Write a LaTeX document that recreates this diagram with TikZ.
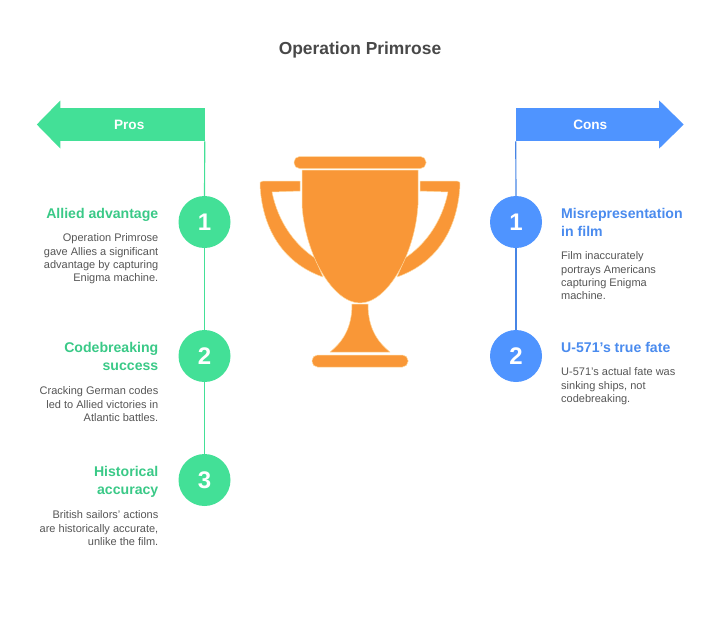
\documentclass[tikz,border=0pt]{standalone}
\usepackage{fontspec}
\setmainfont{Liberation Sans}
\usetikzlibrary{calc, positioning}
\definecolor{prosfill}{HTML}{43E097}
\definecolor{prostext}{HTML}{3AC987}
\definecolor{consfill}{HTML}{4F94FF}
\definecolor{constext}{HTML}{4A8BEE}
\definecolor{cupfill}{HTML}{F99737}
\definecolor{cupedge}{HTML}{FFD9A0}
\definecolor{bodygray}{HTML}{555555}
\definecolor{titlegray}{HTML}{484848}
\tikzset{
title/.style={
	font=\fontsize{17.4}{21}\selectfont\bfseries,
	text=titlegray,
},
bar/.style={
	inner sep=0pt,
	minimum height=33.5pt,
	text=white,
	font=\fontsize{13.6}{16}\selectfont\bfseries,
},
pros/.style={
	fill=prosfill,
},
cons/.style={
	fill=consfill,
},
number/.style={
	shape=circle,
	inner sep=0pt,
	minimum size=52pt,
	text=white,
	font=\fontsize{24}{26}\selectfont\bfseries,
},
connection/.style={
	line width=1.2pt,
},
heading/.style={
	inner sep=0pt,
	font=\fontsize{14.1}{18}\selectfont\bfseries,
},
body/.style={
	inner sep=0pt,
	text=bodygray,
	font=\fontsize{11}{13.4}\selectfont,
},
cup/.style={
	fill=cupfill,
	draw=cupedge,
	line width=0.5pt,
	line join=round,
},
}

\begin{document}
\begin{tikzpicture}[x=1pt, y=-1pt]
		\useasboundingbox (0,0) rectangle (720,622);

		% Title
		\node[title] (Title) at (360,50) {Operation Primrose};

		% Arrows
		\node[bar, pros, minimum width=150.5pt] (Pros) at (129.25,124.5) {Pros};
		\fill[prosfill] ($(Pros.west)+(6.5,-24)$) -- ($(Pros.west)+(-17,0)$) -- ($(Pros.west)+(6.5,24)$) -- cycle;
		\node[bar, cons, minimum width=148.5pt] (Cons) at (590.25,124.5) {Cons};
		\fill[consfill] ($(Cons.east)+(-5.5,-24)$) -- ($(Cons.east)+(19,0)$) -- ($(Cons.east)+(-5.5,24)$) -- cycle;

		% Numbers
		\node[number, pros] (P1) at (204.5,222) {1};
		\node[number, pros] (P2) at (204.5,356) {2};
		\node[number, pros] (P3) at (204.5,480) {3};
		\node[number, cons] (C1) at (516,222) {1};
		\node[number, cons] (C2) at (516,356) {2};

		% Connections
		\draw[connection, prosfill] (Pros.south east) -- (P1);
		\draw[connection, prosfill] (P1) -- (P2);
		\draw[connection, prosfill] (P2) -- (P3);
		\draw[connection, consfill!90!black] (Cons.south west) -- (C1);
		\draw[connection, consfill!90!black] (C1) -- (C2);

		% Pros text
		\node[heading, text=prostext, align=right, anchor=north east] (P1head) at ([xshift=-46pt,yshift=14pt]P1.center) {Allied advantage};
		\node[body, align=right, below=12pt of P1head.south east, anchor=north east] (P1body) {Operation Primrose\\gave Allies a significant\\advantage by capturing\\Enigma machine.};
		\node[heading, text=prostext, align=right, anchor=north east] (P2head) at ([xshift=-46pt,yshift=14pt]P2.center) {Codebreaking\\success};
		\node[body, align=right, below=16pt of P2head.south east, anchor=north east] (P2body) {Cracking German codes\\led to Allied victories in\\Atlantic battles.};
		\node[heading, text=prostext, align=right, anchor=north east] (P3head) at ([xshift=-46pt,yshift=14pt]P3.center) {Historical\\accuracy};
		\node[body, align=right, below=13pt of P3head.south east, anchor=north east] (P3body) {British sailors' actions\\are historically accurate,\\unlike the film.};

		% Cons text
		\node[heading, text=constext, align=left, anchor=north west] (C1head) at ([xshift=45pt,yshift=14pt]C1.center) {Misrepresentation\\in film};
		\node[body, align=left, below=15pt of C1head.south west, anchor=north west] (C1body) {Film inaccurately\\portrays Americans\\capturing Enigma\\machine.};
		\node[heading, text=constext, align=left, anchor=north west] (C2head) at ([xshift=45pt,yshift=14pt]C2.center) {U-571's true fate};
		\node[body, align=left, below=15pt of C2head.south west, anchor=north west] (C2body) {U-571's actual fate was\\sinking ships, not\\codebreaking.};

		% Trophy
		%% Handles
		\draw[cup] (300,181) -- (263,181) .. controls (260,181) and (259.5,183) .. (260,185)
			.. controls (262,225) and (280,262) .. (323,277)
			-- (315,258) .. controls (295,245) and (278,222) .. (272,192) -- (300,191) -- cycle;
		\draw[cup] (420,181) -- (457,181) .. controls (460,181) and (460.5,183) .. (460,185)
			.. controls (458,225) and (440,262) .. (397,277)
			-- (405,258) .. controls (425,245) and (442,222) .. (448,192) -- (420,191) -- cycle;
		%% Cup
		\draw[cup] (302,170) -- (418,170) -- (418,205)
			.. controls (415,255) and (387,303) .. (360,303)
			.. controls (333,303) and (305,255) .. (302,205) -- cycle;
		%% Stem
		\draw[cup] (352,304) -- (368,304) .. controls (368,325) and (375,340) .. (390,352)
			-- (330,352) .. controls (345,340) and (352,325) .. (352,304) -- cycle;
		%% Rim and base
		\draw[cup, rounded corners=5.5pt] (294,156.5) rectangle (426,168.5);
		\draw[cup, rounded corners=5.5pt] (312,355) rectangle (408,367);
	\end{tikzpicture}
\end{document}
